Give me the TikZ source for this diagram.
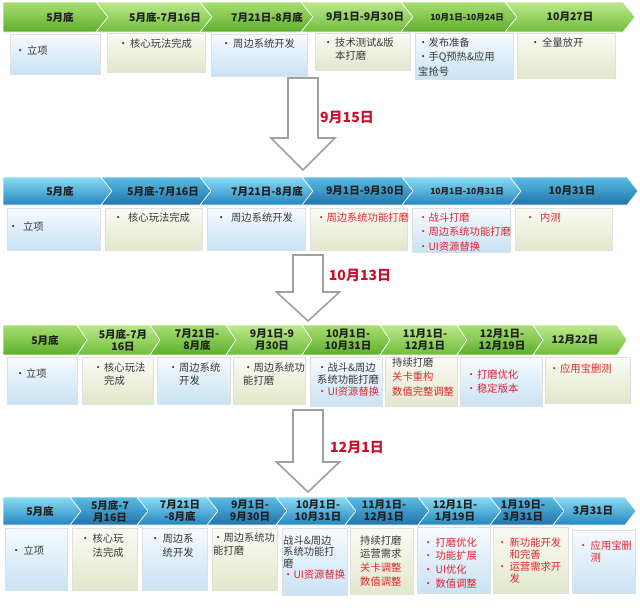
\documentclass[tikz,border=0pt]{standalone}
\usepackage{fontspec}
\setmainfont{Noto Sans CJK SC}
\usetikzlibrary{shadows}
\definecolor{gTop}{HTML}{A9DF72}
\definecolor{gBot}{HTML}{5DAE2C}
\definecolor{gTopB}{HTML}{BDE98C}
\definecolor{gBotB}{HTML}{6EBC3A}
\definecolor{bTop}{HTML}{8ADBF2}
\definecolor{bBot}{HTML}{2386C0}
\definecolor{bTopB}{HTML}{5BBDE3}
\definecolor{bBotB}{HTML}{1F73AC}
\definecolor{boxBT}{HTML}{F7FBFE}
\definecolor{boxBB}{HTML}{C9E2F4}
\definecolor{boxCT}{HTML}{FBFBF4}
\definecolor{boxCB}{HTML}{E1E8CB}
\definecolor{txtRed}{HTML}{E3242E}
\definecolor{lblRed}{HTML}{C8102E}
\definecolor{arrowGray}{HTML}{A0A0A0}
\newlength\bw
\setlength\bw{12pt}
\newcommand\bul{\makebox[\bw][l]{•}}
\newcommand\hind{\hspace*{\bw}}
\newcommand\rd[1]{\textcolor{txtRed}{#1}}
\tikzset{
  htext/.style={font=\bfseries\fontsize{10.5}{12}\selectfont, align=center, text=black!88, inner sep=0pt},
  gA/.style={top color=gTop, bottom color=gBot},
  gB/.style={top color=gTopB, bottom color=gBotB},
  blA/.style={top color=bTop, bottom color=bBot},
  blB/.style={top color=bTopB, bottom color=bBotB},
  boxbase/.style={draw=black!12, line width=0.4pt, inner sep=0pt,
    drop shadow={shadow xshift=0.8pt, shadow yshift=-1.2pt, opacity=0.22}},
  bxB/.style={boxbase, top color=boxBT, bottom color=boxBB},
  bxC/.style={boxbase, top color=boxCT, bottom color=boxCB},
  btext/.style={anchor=base west, align=left, inner sep=0pt, text=black!78},
  redtext/.style={text=txtRed},
  lbl/.style={font=\bfseries\fontsize{14}{16}\selectfont, text=lblRed, inner sep=0pt},
  harrow/.style={draw=arrowGray, line width=1.6pt, fill=white, line join=miter},
}
% #1 name, #2 L, #3 R, #4 text cx, #5 style, #6 notch, #7 text
\newcommand\seg[7]{%
  \path[#5, draw=white, line width=0.6pt] (#2,-\T) -- (#3,-\T) -- ({#3+\dd},{-(\T+\B)/2}) -- (#3,-\B) -- (#2,-\B) -- ({#2+#6},{-(\T+\B)/2}) -- cycle;
  \node[htext] (#1) at (#4,{-(\T+\B)/2}) {#7};}
% #1 name, #2 x0, #3 x1, #4 y0, #5 y1, #6 style
\newcommand\bx[6]{%
  \node[#6, minimum width={(#3-#2)*1pt}, minimum height={(#5-#4)*1pt}] (#1) at ({(#2+#3)/2},{-(#4+#5)/2}) {};}
% #1 name, #2 x, #3 first baseline y, #4 number of lines, #5 line spacing, #6 options, #7 text
\newcommand\tx[7]{\node[btext,font=\fontsize{10.3}{#5}\selectfont,#6] (#1) at (#2,{-(#3+(#4-1)*#5)}) {#7};}
% block arrow: #1 cx, #2 shaft half, #3 top, #4 base, #5 head half, #6 tip
\newcommand\barrow[6]{%
  \draw[harrow] ({#1-#2},-#3) -- ({#1+#2},-#3) -- ({#1+#2},-#4) -- ({#1+#5},-#4) -- (#1,-#6) -- ({#1-#5},-#4) -- ({#1-#2},-#4) -- cycle;}
\begin{document}
\begin{tikzpicture}[x=1pt,y=1pt]
\fill[white] (0,0) rectangle (640,-611);
\useasboundingbox (0,0) rectangle (640,-611);

% ===== Row 1 =====
\def\T{2}\def\B{32}\def\dd{12}
\seg{r1h1}{3}{96}{60}{gA}{0}{5月底}
\seg{r1h2}{96}{200}{165}{gB}{12}{5月底-7月16日}
\seg{r1h3}{200}{301}{267}{gA}{12}{7月21日-8月底}
\seg{r1h4}{301}{401}{365}{gB}{12}{9月1日-9月30日}
\seg{r1h5}{401}{505}{467}{gA}{12}{\fontsize{8.5}{10}\selectfont 10月1日-10月24日}
\seg{r1h6}{505}{623}{570}{gB}{12}{10月27日}
\bx{r1b1}{10}{100}{34}{74}{bxB}
\bx{r1b2}{107}{205}{33}{72}{bxC}
\bx{r1b3}{211}{307}{34}{76}{bxB}
\bx{r1b4}{315}{410}{33}{70}{bxC}
\bx{r1b5}{415}{513}{33}{79}{bxB}
\bx{r1b6}{517}{615}{33}{78}{bxC}
\setlength\bw{12pt}
\tx{r1t1}{15}{54}{1}{14}{}{\bul 立项}
\tx{r1t2}{118}{47}{1}{14}{}{\bul 核心玩法完成}
\tx{r1t3}{221}{47}{1}{14}{}{\bul 周边系统开发}
\tx{r1t4}{323}{46}{2}{13}{}{\bul 技术测试\&版\\\hind 本打磨}
\tx{r1t5}{418}{46}{3}{14.5}{}{•发布准备\\•手Q预热\&应用\\宝抢号}
\tx{r1t6}{530}{46}{1}{14}{}{\bul 全量放开}

\barrow{303}{15}{78}{138}{32}{170}
\node[lbl] (l1) at (347,-117) {9月15日};

% ===== Row 2 =====
\def\T{177}\def\B{205}\def\dd{11}
\seg{r2h1}{3}{101}{60}{blA}{0}{5月底}
\seg{r2h2}{101}{200}{163}{blB}{11}{5月底-7月16日}
\seg{r2h3}{200}{302}{267}{blA}{11}{7月21日-8月底}
\seg{r2h4}{302}{402}{365}{blB}{11}{9月1日-9月30日}
\seg{r2h5}{402}{510}{467}{blA}{11}{\fontsize{8.5}{10}\selectfont 10月1日-10月31日}
\seg{r2h6}{510}{627}{572}{blB}{11}{10月31日}
\bx{r2b1}{7}{100}{208}{250}{bxB}
\bx{r2b2}{105}{202}{208}{250}{bxC}
\bx{r2b3}{207}{305}{208}{250}{bxB}
\bx{r2b4}{310}{407}{208}{250}{bxC}
\bx{r2b5}{412}{510}{208}{252}{bxB}
\bx{r2b6}{515}{612}{208}{250}{bxC}
\setlength\bw{15pt}
\tx{r2t1}{8}{230}{1}{14}{}{\bul 立项}
\tx{r2t2}{113}{221}{1}{14}{}{\bul 核心玩法完成}
\tx{r2t3}{216}{221}{1}{14}{}{\bul 周边系统开发}
\tx{r2t4}{316}{221}{1}{14}{redtext}{•周边系统功能打磨}
\tx{r2t5}{418}{221}{3}{14.5}{redtext}{•战斗打磨\\•周边系统功能打磨\\•UI资源替换}
\tx{r2t6}{525}{221}{1}{14}{redtext}{\bul 内测}

\barrow{308}{15}{255}{292}{31.5}{321}
\node[lbl] (l2) at (360,-275) {10月13日};

% ===== Row 3 =====
\def\T{325}\def\B{355}\def\dd{10}
\seg{r3h1}{3}{77}{45}{gA}{0}{5月底}
\seg{r3h2}{77}{150}{123}{gB}{10}{5月底-7月\\16日}
\seg{r3h3}{150}{226}{197}{gA}{10}{7月21日-\\8月底}
\seg{r3h4}{226}{302}{272}{gB}{10}{9月1日-9\\月30日}
\seg{r3h5}{302}{380}{348}{gA}{10}{10月1日-\\10月31日}
\seg{r3h6}{380}{457}{425}{gB}{10}{11月1日-\\12月1日}
\seg{r3h7}{457}{533}{502}{gA}{10}{12月1日-\\12月19日}
\seg{r3h8}{533}{617}{575}{gB}{10}{12月22日}
\bx{r3b1}{7}{77}{357}{404}{bxB}
\bx{r3b2}{82}{153}{357}{404}{bxC}
\bx{r3b3}{157}{230}{357}{404}{bxB}
\bx{r3b4}{233}{305}{357}{404}{bxC}
\bx{r3b5}{310}{382}{357}{406}{bxB}
\bx{r3b6}{385}{457}{357}{406}{bxC}
\bx{r3b7}{460}{542}{357}{406}{bxB}
\bx{r3b8}{545}{630}{357}{403}{bxC}
\setlength\bw{11pt}
\tx{r3t1}{15}{377}{1}{14}{}{\bul 立项}
\tx{r3t2}{93}{371}{2}{13}{}{\bul 核心玩法\\\hind 完成}
\tx{r3t3}{168}{371}{2}{13}{}{\bul 周边系统\\\hind 开发}
\tx{r3t4}{243}{371}{2}{13}{}{•周边系统功\\能打磨}
\tx{r3t5}{317}{371}{3}{12}{}{•战斗\&周边\\系统功能打磨\\\rd{•UI资源替换}}
\tx{r3t6}{392}{366}{3}{14.5}{}{持续打磨\\\rd{关卡重构}\\\rd{数值完整调整}}
\tx{r3t7}{466}{378}{2}{14}{redtext}{\bul 打磨优化\\\bul 稳定版本}
\tx{r3t8}{549}{372}{1}{14}{redtext}{\bul 应用宝删测}

\barrow{308}{15}{410}{462}{31.5}{492}
\node[lbl] (l3) at (357,-447) {12月1日};

% ===== Row 4 =====
\def\T{497}\def\B{525}\def\dd{11}
\seg{r4h1}{3}{70}{40}{blA}{0}{5月底}
\seg{r4h2}{70}{137}{110}{blB}{11}{5月底-7\\月16日}
\seg{r4h3}{137}{207}{180}{blA}{11}{7月21日\\-8月底}
\seg{r4h4}{207}{276}{250}{blB}{11}{9月1日-\\9月30日}
\seg{r4h5}{276}{345}{318}{blA}{11}{10月1日-\\10月31日}
\seg{r4h6}{345}{418}{384}{blB}{11}{11月1日-\\12月1日}
\seg{r4h7}{418}{490}{455}{blA}{11}{12月1日-\\1月19日}
\seg{r4h8}{490}{553}{523}{blB}{11}{1月19日-\\3月31日}
\seg{r4h9}{553}{625}{593}{blA}{11}{3月31日}
\bx{r4b1}{5}{67}{528}{590}{bxB}
\bx{r4b2}{72}{137}{528}{590}{bxC}
\bx{r4b3}{142}{207}{528}{590}{bxB}
\bx{r4b4}{212}{277}{528}{590}{bxC}
\bx{r4b5}{282}{347}{528}{595}{bxB}
\bx{r4b6}{350}{413}{528}{594}{bxC}
\bx{r4b7}{417}{490}{527}{593}{bxB}
\bx{r4b8}{493}{568}{527}{593}{bxC}
\bx{r4b9}{572}{635}{530}{593}{bxB}
\setlength\bw{12.5pt}
\tx{r4t1}{11}{554}{1}{14}{}{\bul 立项}
\tx{r4t2}{80}{542}{2}{14}{}{\bul 核心玩\\\hind 法完成}
\tx{r4t3}{150}{542}{2}{14}{}{\bul 周边系\\\hind 统开发}
\tx{r4t4}{213}{541}{2}{13}{}{•周边系统功\\能打磨}
\tx{r4t5}{283}{544}{4}{11.5}{}{战斗\&周边\\系统功能打\\磨\\\rd{•UI资源替换}}
\tx{r4t6}{360}{544}{4}{13.7}{}{持续打磨\\运营需求\\\rd{关卡调整}\\\rd{数值调整}}
\tx{r4t7}{423}{546}{4}{13.7}{redtext}{\bul 打磨优化\\\bul 功能扩展\\\bul UI优化\\\bul 数值调整}
\tx{r4t8}{497}{546}{4}{12.3}{redtext}{\bul 新功能开发\\\hind 和完善\\\bul 运营需求开\\\hind 发}
\tx{r4t9}{578}{549}{2}{12}{redtext}{\bul 应用宝删\\\hind 测}
\end{tikzpicture}
\end{document}
